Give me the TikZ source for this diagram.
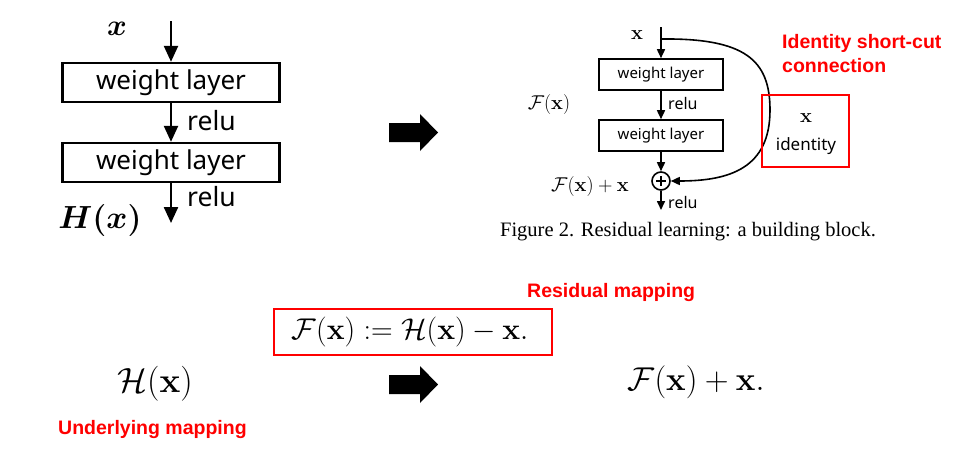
\documentclass[tikz,border=0pt]{standalone}
\usepackage{fix-cm}
\usepackage[no-math]{fontspec}
\newfontfamily\sansf{Noto Sans}
\newfontfamily\boldf{Liberation Sans}
\newfontfamily\capf{Liberation Serif}
\usetikzlibrary{arrows.meta}
\definecolor{pure red}{RGB}{255,0,0}
\tikzset{
  lbox/.style={draw, line width=2.4pt, minimum width=217pt, minimum height=39pt, inner sep=0pt,
    font=\sansf\fontsize{26}{30}\selectfont},
  rbox/.style={draw, line width=1.6pt, minimum width=124pt, minimum height=31pt, inner sep=0pt,
    font=\sansf\fontsize{15}{18}\selectfont},
  larr/.style={line width=2.4pt, -{Triangle[width=14pt,length=16pt]}},
  rarr/.style={line width=1.6pt, -{Triangle[width=8pt,length=9pt]}},
  txt/.style={inner sep=0pt},
  redlab/.style={inner sep=0pt, anchor=west, text=pure red, font=\boldf\bfseries\fontsize{19.5}{23}\selectfont},
  redbox/.style={draw=pure red, line width=2pt},
  bigarrow/.style={fill=black},
}
\begin{document}
\begin{tikzpicture}[x=1pt,y=-1pt]
\useasboundingbox (0,0) rectangle (961,466);
% ---------------- left plain block
\node[lbox] (b1) at (171,82.5) {weight layer};
\node[lbox] (b2) at (171,162.5) {weight layer};
\coordinate (lin) at (171,21);
\coordinate (lout) at (171,223);
\draw[larr] (lin) -- (b1.north);
\draw[larr] (b1.south) -- (b2.north);
\draw[larr] (b2.south) -- (lout);
\node[txt, anchor=west, font=\sansf\fontsize{26.5}{30}\selectfont] (lr1) at (187,121) {relu};
\node[txt, anchor=west, font=\sansf\fontsize{26.5}{30}\selectfont] (lr2) at (187,197) {relu};
\node[txt, font=\boldmath\fontsize{30}{34}\selectfont] (lx) at (117,29) {$x$};
\node[txt, font=\boldmath\fontsize{32}{36}\selectfont] (lH) at (100,220) {$H(x)$};
% ---------------- big arrows
\fill[bigarrow] (389,123) -- (420,123) -- (420,114) -- (438,132.5) -- (420,151) -- (420,142) -- (389,142) -- cycle;
\fill[bigarrow] (389,375) -- (420,375) -- (420,366) -- (438,384.5) -- (420,403) -- (420,394) -- (389,394) -- cycle;
% ---------------- residual block
\node[rbox] (c1) at (661,74.5) {weight layer};
\node[rbox] (c2) at (661,135.5) {weight layer};
\node[circle, draw, line width=1.6pt, minimum size=18pt, inner sep=0pt,
  path picture={\draw[line width=1.6pt] ([yshift=-5pt]path picture bounding box.center) -- ([yshift=5pt]path picture bounding box.center);
                \draw[line width=1.6pt] ([xshift=-5pt]path picture bounding box.center) -- ([xshift=5pt]path picture bounding box.center);}] (sum) at (661,181) {};
\coordinate (rin) at (661,27);
\coordinate (split) at (661,39);
\coordinate (rout) at (661,210);
\draw[rarr] (rin) -- (c1.north);
\draw[rarr] (c1.south) -- (c2.north);
\draw[rarr] (c2.south) -- (sum.north);
\draw[rarr] (sum.south) -- (rout);
\draw[rarr] (split) .. controls (745,38) and (770,60) .. (770,110) .. controls (770,168) and (730,181) .. (sum.east);
\node[txt, anchor=west, font=\sansf\fontsize{16}{19}\selectfont] (rr1) at (668,103) {relu};
\node[txt, anchor=west, font=\sansf\fontsize{16}{19}\selectfont] (rr2) at (668,202) {relu};
\node[txt, font=\fontsize{20}{24}\selectfont] (rx) at (637,35) {$\mathbf{x}$};
\node[txt, font=\fontsize{20}{24}\selectfont] (rF) at (549,104) {$\mathcal{F}(\mathbf{x})$};
\node[txt, font=\fontsize{20}{24}\selectfont] (rFx) at (590,186) {$\mathcal{F}(\mathbf{x})+\mathbf{x}$};
\node[txt, font=\capf\fontsize{20.5}{24}\selectfont] (cap) at (688,232) {Figure 2. Residual learning: a building block.};
% identity box
\draw[redbox] (762,95) rectangle (849,167);
\node[txt, font=\fontsize{20}{24}\selectfont] (ix) at (806,118) {$\mathbf{x}$};
\node[txt, font=\sansf\fontsize{17}{20}\selectfont] (iid) at (806,146) {identity};
\node[redlab] (idl1) at (782,43) {Identity short-cut};
\node[redlab] (idl2) at (782,66) {connection};
% ---------------- bottom formulas
\draw[redbox] (274,309) rectangle (552,355);
\node[txt, font=\fontsize{30}{36}\selectfont] (fdef) at (410,332) {$\mathcal{F}(\mathbf{x}) := \mathcal{H}(\mathbf{x}) - \mathbf{x}.$};
\node[redlab] (resl) at (527,292) {Residual mapping};
\node[txt, font=\fontsize{35}{40}\selectfont] (Hx) at (155,384) {$\mathcal{H}(\mathbf{x})$};
\node[redlab] (undl) at (58,429) {Underlying mapping};
\node[txt, font=\fontsize{33}{38}\selectfont] (Fx) at (696,382) {$\mathcal{F}(\mathbf{x})+\mathbf{x}.$};
\end{tikzpicture}
\end{document}
